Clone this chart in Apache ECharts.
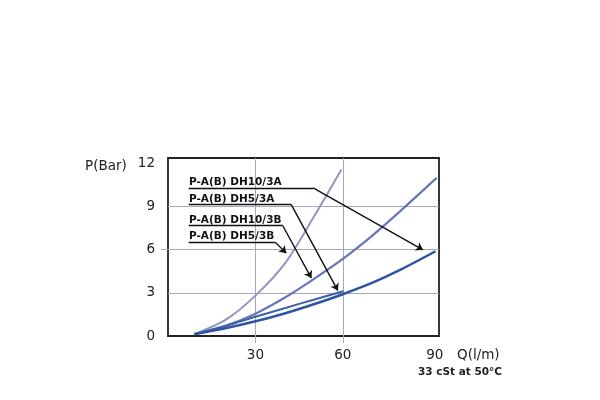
<!DOCTYPE html>
<html>
<head>
<meta charset="utf-8">
<script src="https://cdn.jsdelivr.net/npm/echarts@6/dist/echarts.min.js"></script>
<style>html,body{margin:0;padding:0;background:#fff}#c{width:600px;height:400px}</style>
</head>
<body>
<div id="c"></div>
<script>
// ---- data ----
const xTickLabels = [30, 60, 90];
const xGridValues = [30, 60];
const yTickLabels = [0, 3, 6, 9, 12];
const yGridValues = [3, 6, 9];

const lightX = [9, 20, 30, 40, 50, 59.5];
const lightY = [0.12, 1.15, 2.8, 5.0, 8.25, 11.55];

const mediumX = [9, 20, 30, 40, 50, 60, 70, 80, 92.2];
const mediumY = [0.12, 0.72, 1.55, 2.65, 3.95, 5.35, 6.95, 8.72, 10.97];

const darkLongX = [9, 20, 30, 40, 50, 60, 70, 80, 91.8];
const darkLongY = [0.12, 0.55, 1.02, 1.56, 2.2, 2.9, 3.68, 4.62, 5.88];

const darkShortX = [9, 20, 30, 40, 50, 60.2];
const darkShortY = [0.12, 0.72, 1.33, 1.93, 2.52, 3.1];

const calloutNames = ['P-A(B) DH10/3A', 'P-A(B) DH5/3A', 'P-A(B) DH10/3B', 'P-A(B) DH5/3B'];
const calloutStartX = 7.1;
const calloutLevel = [10.28, 9.12, 7.65, 6.49];
const calloutBendX = [49.8, 42.3, 39.4, 36.9];
const calloutTip = [[87.5, 5.98], [58.3, 3.15], [49.2, 4.02], [40.6, 5.75]];

// ---- helpers ----
const pairs = (xs, ys) => xs.map((x, i) => [x, ys[i]]);
const X_MAX = 93, Y_MAX = 12.35;
const GRID_COLOR = '#a8a8b8';
const FONT = '"DejaVu Sans", sans-serif';

const gridLines = [];
xGridValues.forEach(v => gridLines.push({ coords: [[v, 0], [v, Y_MAX]] }));
yGridValues.forEach(v => gridLines.push({ coords: [[0, v], [X_MAX, v]] }));

const underlines = calloutLevel.map((lv, i) => ({ coords: [[calloutStartX, lv], [calloutBendX[i], lv]] }));
const arrows = calloutLevel.map((lv, i) => ({ coords: [[calloutBendX[i], lv], calloutTip[i]] }));

const curve = (name, xs, ys, color, width) => ({
  name, type: 'line', data: pairs(xs, ys), smooth: 0.3, showSymbol: false, symbol: 'none',
  lineStyle: { color, width }, z: 3, silent: true
});

const chart = echarts.init(document.getElementById('c'), null, { renderer: 'canvas' });
chart.setOption({
  animation: false,
  backgroundColor: '#fff',
  grid: { left: 168, right: 161, top: 158, bottom: 64, show: true, borderColor: '#222', borderWidth: 1.8, containLabel: false },
  xAxis: {
    type: 'value', min: 0, max: X_MAX,
    axisLine: { show: false },
    splitLine: { show: false },
    axisTick: { show: true, customValues: xGridValues, length: 7, lineStyle: { color: GRID_COLOR, width: 1 } },
    axisLabel: {
      customValues: xTickLabels, margin: 12, color: '#222', fontSize: 13.5, fontFamily: FONT,
      formatter: v => v === 90 ? '{s|90}' : String(v),
      rich: { s: { padding: [0, 0, 0, 9], fontSize: 13.5, fontFamily: FONT, color: '#222' } }
    }
  },
  yAxis: {
    type: 'value', min: 0, max: Y_MAX,
    axisLine: { show: false },
    splitLine: { show: false },
    axisTick: { show: true, customValues: [6], length: 7, lineStyle: { color: GRID_COLOR, width: 1 } },
    axisLabel: { customValues: yTickLabels, margin: 13, color: '#222', fontSize: 13.5, fontFamily: FONT, padding: [4, 0, 0, 0] }
  },
  series: [
    { type: 'lines', coordinateSystem: 'cartesian2d', data: gridLines, symbol: 'none', silent: true, z: 1,
      lineStyle: { color: GRID_COLOR, width: 1, opacity: 1, curveness: 0 } },
    curve('light', lightX, lightY, '#9494c6', 2),
    curve('medium', mediumX, mediumY, '#6676b8', 2.2),
    curve('darkShort', darkShortX, darkShortY, '#3d5fac', 2),
    curve('darkLong', darkLongX, darkLongY, '#2f54a2', 2.5),
    { type: 'lines', coordinateSystem: 'cartesian2d', data: underlines, symbol: 'none', silent: true, z: 4,
      lineStyle: { color: '#111', width: 1.4, opacity: 1, curveness: 0 } },
    { type: 'lines', coordinateSystem: 'cartesian2d', data: arrows, symbol: ['none', 'arrow'], symbolSize: 7, silent: true, z: 4,
      lineStyle: { color: '#111', width: 1.4, opacity: 1, curveness: 0 } }
  ],
  graphic: [
    { type: 'text', x: 85, y: 166, style: { text: 'P(Bar)', fontSize: 13.5, fontFamily: FONT, fill: '#222', verticalAlign: 'middle' } },
    { type: 'text', x: 457, y: 355, style: { text: 'Q(l/m)', fontSize: 13.5, fontFamily: FONT, fill: '#222', verticalAlign: 'middle' } },
    { type: 'text', x: 502, y: 372, style: { text: '33 cSt at 50°C', fontSize: 10.5, fontWeight: 'bold', fontFamily: FONT, fill: '#222', align: 'right', verticalAlign: 'middle' } },
    ...calloutNames.map((t, i) => ({
      type: 'text', x: 189, y: [182.5, 199.5, 220, 236.7][i], z: 10,
      style: { text: t, fontSize: 10.5, fontWeight: 'bold', fontFamily: FONT, fill: '#111', verticalAlign: 'middle' }
    }))
  ]
});
</script>
</body>
</html>
